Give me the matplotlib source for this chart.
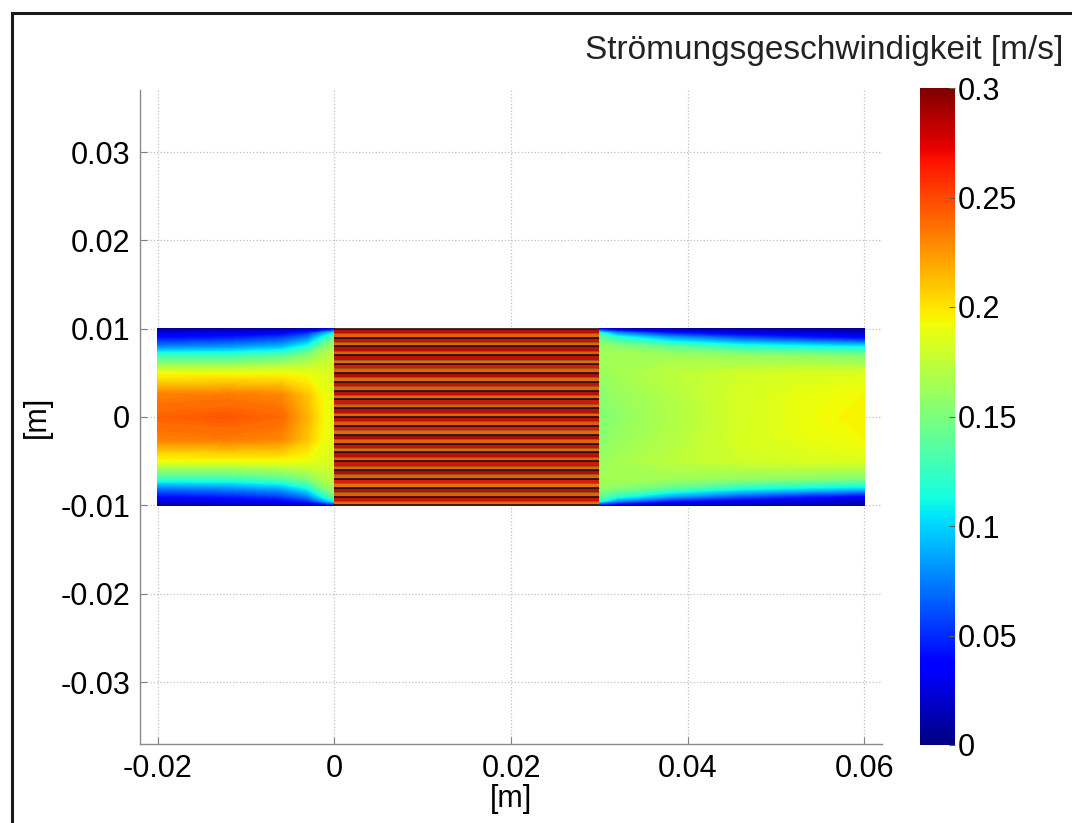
import numpy as np
import matplotlib
matplotlib.use("agg")
import matplotlib.pyplot as plt
from matplotlib.patches import Rectangle

plt.rcParams['font.family'] = ['Liberation Sans', 'DejaVu Sans']

# --- data ----------------------------------------------------------------
# cross-channel sample positions [m]
y_pts = [-0.01, -0.0095, -0.009, -0.008, -0.007, -0.005, -0.0025, 0.0,
         0.0025, 0.005, 0.007, 0.008, 0.009, 0.0095, 0.01]

# inlet section (x from -0.02 to 0), one velocity profile per column
x_inlet = [-0.02, -0.012, -0.006, -0.003, -0.001, 0.0]
v_inlet = [
    [0.005, 0.025, 0.04, 0.075, 0.125, 0.19, 0.232, 0.242, 0.232, 0.19, 0.125, 0.075, 0.04, 0.025, 0.005],
    [0.005, 0.03, 0.045, 0.08, 0.125, 0.19, 0.234, 0.245, 0.234, 0.19, 0.125, 0.08, 0.045, 0.03, 0.005],
    [0.005, 0.035, 0.055, 0.09, 0.135, 0.192, 0.23, 0.24, 0.23, 0.192, 0.135, 0.09, 0.055, 0.035, 0.005],
    [0.01, 0.05, 0.075, 0.115, 0.152, 0.19, 0.21, 0.215, 0.21, 0.19, 0.152, 0.115, 0.075, 0.05, 0.01],
    [0.02, 0.09, 0.12, 0.155, 0.17, 0.185, 0.19, 0.192, 0.19, 0.185, 0.17, 0.155, 0.12, 0.09, 0.02],
    [0.03, 0.11, 0.14, 0.165, 0.175, 0.183, 0.187, 0.188, 0.187, 0.183, 0.175, 0.165, 0.14, 0.11, 0.03],
]

# outlet section (x from 0.03 to 0.06)
x_outlet = [0.03, 0.032, 0.038, 0.046, 0.054, 0.06]
v_outlet = [
    [0.03, 0.12, 0.14, 0.16, 0.163, 0.16, 0.155, 0.152, 0.155, 0.16, 0.163, 0.16, 0.14, 0.12, 0.03],
    [0.015, 0.08, 0.12, 0.155, 0.166, 0.165, 0.16, 0.157, 0.16, 0.165, 0.166, 0.155, 0.12, 0.08, 0.015],
    [0.008, 0.045, 0.085, 0.14, 0.163, 0.173, 0.17, 0.168, 0.17, 0.173, 0.163, 0.14, 0.085, 0.045, 0.008],
    [0.005, 0.03, 0.06, 0.12, 0.158, 0.18, 0.183, 0.182, 0.183, 0.18, 0.158, 0.12, 0.06, 0.03, 0.005],
    [0.005, 0.025, 0.045, 0.11, 0.155, 0.184, 0.19, 0.192, 0.19, 0.184, 0.155, 0.11, 0.045, 0.025, 0.005],
    [0.005, 0.02, 0.035, 0.105, 0.15, 0.185, 0.194, 0.196, 0.194, 0.185, 0.15, 0.105, 0.035, 0.02, 0.005],
]

# porous section (x from 0 to 0.03): 20 channels, two bands per channel
x_porous = [0.0, 0.03]
channel_walls = [-0.01, -0.009, -0.008, -0.007, -0.006, -0.005, -0.004, -0.003, -0.002, -0.001, 0.0,
                 0.001, 0.002, 0.003, 0.004, 0.005, 0.006, 0.007, 0.008, 0.009, 0.01]
band_edges = [-0.01, -0.0095, -0.009, -0.0085, -0.008, -0.0075, -0.007, -0.0065, -0.006, -0.0055,
              -0.005, -0.0045, -0.004, -0.0035, -0.003, -0.0025, -0.002, -0.0015, -0.001, -0.0005,
              0.0, 0.0005, 0.001, 0.0015, 0.002, 0.0025, 0.003, 0.0035, 0.004, 0.0045,
              0.005, 0.0055, 0.006, 0.0065, 0.007, 0.0075, 0.008, 0.0085, 0.009, 0.0095, 0.01]
band_vals = [0.235, 0.272, 0.24, 0.278, 0.232, 0.268, 0.238, 0.282, 0.236, 0.27,
             0.24, 0.278, 0.234, 0.274, 0.238, 0.284, 0.235, 0.268, 0.242, 0.276,
             0.236, 0.28, 0.238, 0.27, 0.234, 0.278, 0.24, 0.273, 0.236, 0.282,
             0.238, 0.268, 0.233, 0.276, 0.24, 0.28, 0.236, 0.272, 0.238, 0.278]

cbar_ticks = [0, 0.05, 0.1, 0.15, 0.2, 0.25, 0.3]
cbar_labels = ['0', '0.05', '0.1', '0.15', '0.2', '0.25', '0.3']
x_ticks = [-0.02, 0, 0.02, 0.04, 0.06]
x_labels = ['-0.02', '0', '0.02', '0.04', '0.06']
y_ticks = [-0.03, -0.02, -0.01, 0, 0.01, 0.02, 0.03]
y_labels = ['-0.03', '-0.02', '-0.01', '0', '0.01', '0.02', '0.03']

# --- plotting --------------------------------------------------------------
W, H = 1072, 823
fig = plt.figure(figsize=(W / 100, H / 100), dpi=100)
fig.patch.set_facecolor('white')

ax = fig.add_axes([140 / W, 1 - 744 / H, 742 / W, 654 / H])
cmap = plt.get_cmap('jet')
levels = np.linspace(0, 0.3, 151)

ax.contourf(x_inlet, y_pts, np.array(v_inlet).T, levels=levels, cmap=cmap,
            vmin=0, vmax=0.3, extend='both')
ax.contourf(x_outlet, y_pts, np.array(v_outlet).T, levels=levels, cmap=cmap,
            vmin=0, vmax=0.3, extend='both')
ax.pcolormesh(x_porous, band_edges, np.array(band_vals)[:, None], cmap=cmap,
              vmin=0, vmax=0.3, shading='flat')
# muted look of the dense mesh + dark channel walls inside the porous block
ax.fill_between(x_porous, channel_walls[0], channel_walls[-1], color='#6a4a30',
                alpha=0.22, linewidth=0)
ax.hlines(band_edges, x_porous[0], x_porous[1], colors='#5a3a20', linewidth=0.8, alpha=0.45)
ax.hlines(channel_walls, x_porous[0], x_porous[1], colors='#1e0c06', linewidth=1.3, alpha=0.9)

ax.set_xlim(-0.022, 0.062)
ax.set_ylim(-0.037, 0.037)
ax.set_aspect('equal')

ax.set_xticks(x_ticks)
ax.set_xticklabels(x_labels)
ax.set_yticks(y_ticks)
ax.set_yticklabels(y_labels)
ax.tick_params(direction='in', length=5, color='#808080', labelsize=22, pad=7)
ax.grid(True, linestyle=':', color='#c0c0c0', linewidth=0.9)
ax.set_axisbelow(True)
for s in ['top', 'right']:
    ax.spines[s].set_visible(False)
for s in ['left', 'bottom']:
    ax.spines[s].set_color('#8c8c8c')
    ax.spines[s].set_linewidth(1.0)
ax.set_xlabel('[m]', fontsize=22, labelpad=0)
ax.set_ylabel('[m]', fontsize=22, labelpad=6)

# colorbar
cax = fig.add_axes([920 / W, 1 - 745 / H, 35 / W, 657 / H])
sm = plt.cm.ScalarMappable(norm=plt.Normalize(0, 0.3), cmap=cmap)
cb = fig.colorbar(sm, cax=cax)
cb.set_ticks(cbar_ticks)
cb.set_ticklabels(cbar_labels)
cb.ax.tick_params(direction='in', length=4, color='#606060', labelsize=22, pad=2)
cb.outline.set_visible(False)

fig.text(585 / W, 1 - 50 / H, 'Strömungsgeschwindigkeit [m/s]', fontsize=24,
         ha='left', va='center', color='#222222')

# frame around the figure
fig.patches.append(Rectangle((12 / W, -0.1), 1.2, 1.1 - 13 / H,
                             transform=fig.transFigure, fill=False,
                             edgecolor='#1a1a1a', linewidth=2.2))

plt.savefig('out.png', dpi=100)
plt.close()
